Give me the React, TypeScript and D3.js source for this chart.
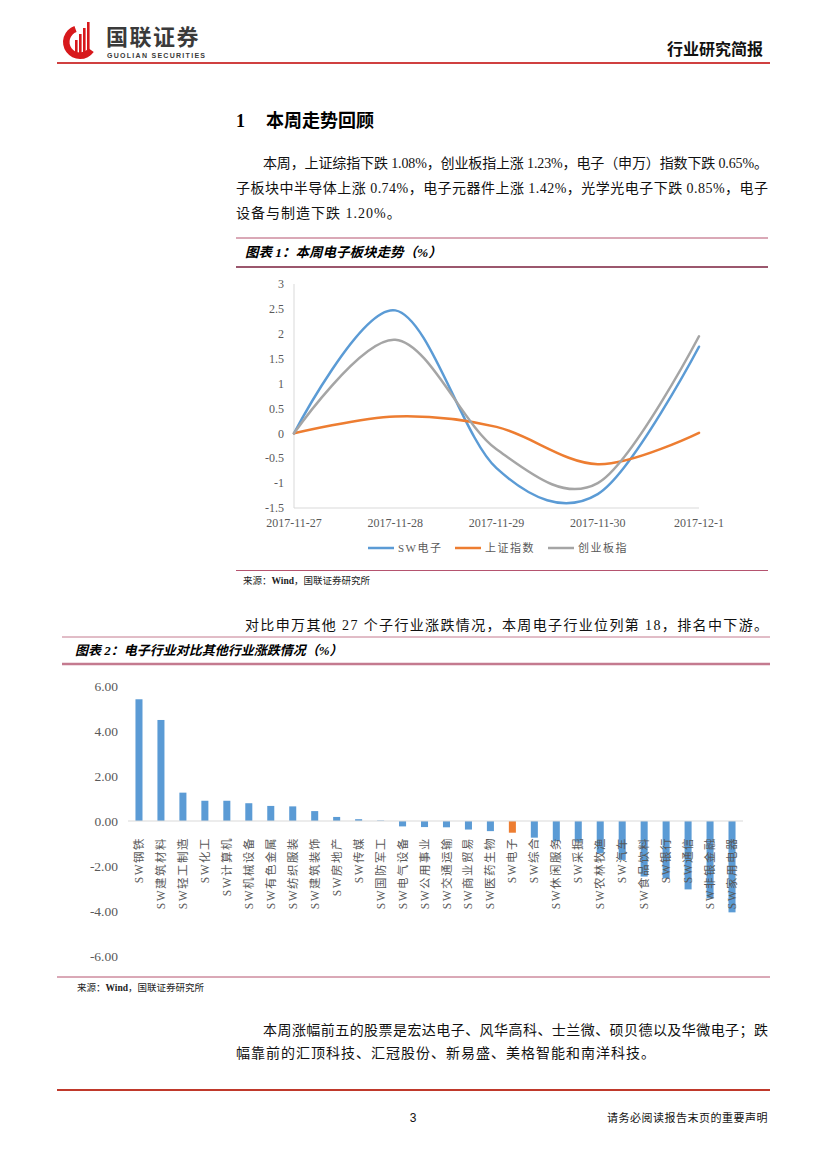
import React from 'react';
import * as d3 from 'd3';

// ---------- Chart 1 data ----------
const dates = ['2017-11-27', '2017-11-28', '2017-11-29', '2017-11-30', '2017-12-1'];
const swElec = [0, 2.47, -0.7, -1.22, 1.74];
const shIndex = [0, 0.34, 0.13, -0.62, 0.01];
const cyIndex = [0, 1.88, -0.32, -1.0, 1.95];
const yTicks1 = [3, 2.5, 2, 1.5, 1, 0.5, 0, -0.5, -1, -1.5];
const seriesNames = ['SW电子', '上证指数', '创业板指'];

// ---------- Chart 2 data ----------
const industries = [
  'SW钢铁', 'SW建筑材料', 'SW轻工制造', 'SW化工', 'SW计算机', 'SW机械设备', 'SW有色金属',
  'SW纺织服装', 'SW建筑装饰', 'SW房地产', 'SW传媒', 'SW国防军工', 'SW电气设备', 'SW公用事业',
  'SW交通运输', 'SW商业贸易', 'SW医药生物', 'SW电子', 'SW综合', 'SW休闲服务', 'SW采掘',
  'SW农林牧渔', 'SW汽车', 'SW食品饮料', 'SW银行', 'SW通信', 'SW非银金融', 'SW家用电器',
];
const changes = [
  5.41, 4.49, 1.26, 0.9, 0.9, 0.79, 0.67,
  0.65, 0.44, 0.18, 0.08, 0.02, -0.24, -0.27,
  -0.28, -0.38, -0.45, -0.52, -0.74, -0.9, -0.92,
  -1.44, -1.73, -2.47, -2.55, -3.04, -3.44, -4.06,
];
const yTicks2 = [6, 4, 2, 0, -2, -4, -6];
const highlight = 'SW电子';

const SERIF = "'Liberation Serif','Times New Roman','Noto Sans CJK SC',serif";
const CJK = "'Noto Sans CJK SC','Liberation Serif',serif";
const BLUE = '#5B9BD5';
const ORANGE = '#ED7D31';
const GRAY = '#A5A5A5';
const LABEL = '#595959';

export default function App() {
  // chart 1 scales
  const x1 = d3.scalePoint<string>().domain(dates).range([294, 699]);
  const y1 = d3.scaleLinear().domain([-1.5, 3]).range([508, 284]);
  const line = d3
    .line<number>()
    .x((_, i) => x1(dates[i]) as number)
    .y((d) => y1(d))
    .curve(d3.curveCardinal.tension(0));
  const series = [
    { name: seriesNames[0], values: swElec, color: BLUE },
    { name: seriesNames[1], values: shIndex, color: ORANGE },
    { name: seriesNames[2], values: cyIndex, color: GRAY },
  ];
  const legendX = [368, 455, 548];

  // chart 2 scales
  const x2 = d3.scaleBand<string>().domain(industries).range([128, 743]).paddingInner(0.68).paddingOuter(0.34);
  const y2 = d3.scaleLinear().domain([-6, 6]).range([956, 686]);

  // logo arc
  const logoArc = d3.arc()({ innerRadius: 10.5, outerRadius: 17, startAngle: 2.2, endAngle: 5.95 } as any) as string;

  return (
    <div style={{ position: 'absolute', left: 0, top: 0 }}>
      <svg width={827} height={1169} style={{ display: 'block', background: '#fff' }}>
        {/* ---------- header ---------- */}
        <g>
          <path d={logoArc} transform="translate(80,42)" fill="#D7191C" />
          {[{ x: 75, t: 40 }, { x: 79, t: 34 }, { x: 83, t: 28 }, { x: 87, t: 22 }].map((b, i) => (
            <rect key={i} x={b.x} y={b.t} width={2.6} height={56 - b.t} fill="#D7191C" />
          ))}
          <text x={106} y={45} fontFamily={CJK} fontWeight={700} fontSize={22} letterSpacing={1.5} fill="#3a3a3a">国联证券</text>
          <text x={107} y={58} fontFamily="'Liberation Sans',Arial,sans-serif" fontWeight={700} fontSize={7} fill="#3a3a3a" textLength={98} lengthAdjust="spacing">GUOLIAN SECURITIES</text>
          <text x={763} y={55} textAnchor="end" fontFamily={CJK} fontWeight={700} fontSize={16} fill="#111">行业研究简报</text>
          <line x1={57} x2={770} y1={63} y2={63} stroke="#C00000" strokeWidth={1.6} />
        </g>

        {/* ---------- section heading and paragraph ---------- */}
        <text x={236} y={127} fontFamily={SERIF} fontWeight={700} fontSize={18} fill="#000">1</text>
        <text x={266} y={127} fontFamily={CJK} fontWeight={700} fontSize={18} fill="#000">本周走势回顾</text>
        <g fontFamily={SERIF} fontSize={14} fill="#111">
          <text x={263} y={168} textLength={505} lengthAdjust="spacing">本周，上证综指下跌 1.08%，创业板指上涨 1.23%，电子（申万）指数下跌 0.65%。</text>
          <text x={236} y={193} textLength={532} lengthAdjust="spacing">子板块中半导体上涨 0.74%，电子元器件上涨 1.42%，光学光电子下跌 0.85%，电子</text>
          <text x={236} y={218} letterSpacing={1}>设备与制造下跌 1.20%。</text>
        </g>

        {/* ---------- chart 1 title ---------- */}
        <line x1={236} x2={768} y1={238} y2={238} stroke="#B5536F" strokeWidth={1} />
        <text x={245} y={257} fontFamily={SERIF} fontStyle="italic" fontWeight={700} fontSize={13.5} fill="#000">图表 1：本周电子板块走势（%）</text>
        <line x1={236} x2={768} y1={267} y2={267} stroke="#7A1F3D" strokeWidth={1.3} />

        {/* ---------- chart 1 ---------- */}
        <g>
          <line x1={294} x2={294} y1={284} y2={508} stroke="#D9D9D9" strokeWidth={1} />
          <line x1={294} x2={699} y1={508} y2={508} stroke="#D9D9D9" strokeWidth={1} />
          {yTicks1.map((t) => (
            <text key={t} x={284} y={y1(t)} dy="0.35em" textAnchor="end" fontFamily={SERIF} fontSize={12} fill={LABEL}>
              {String(t)}
            </text>
          ))}
          {dates.map((d) => (
            <text key={d} x={x1(d) as number} y={527} textAnchor="middle" fontFamily={SERIF} fontSize={12} fill={LABEL}>
              {d}
            </text>
          ))}
          {series.map((s) => (
            <path key={s.name} d={line(s.values) as string} fill="none" stroke={s.color} strokeWidth={2.5} strokeLinecap="round" />
          ))}
          {series.map((s, i) => (
            <g key={s.name}>
              <line x1={legendX[i]} x2={legendX[i] + 26} y1={548} y2={548} stroke={s.color} strokeWidth={2.5} />
              <text x={legendX[i] + 30} y={548} dy="0.35em" fontFamily={SERIF} fontSize={11} letterSpacing={1.5} fill={LABEL}>
                {s.name}
              </text>
            </g>
          ))}
        </g>
        <line x1={236} x2={768} y1={570.5} y2={570.5} stroke="#B5536F" strokeWidth={1} />
        <text x={243} y={584} fontFamily={SERIF} fontSize={9.5} fill="#222">来源：<tspan fontWeight={700}>Wind</tspan>，国联证券研究所</text>

        <text x={245} y={630} fontFamily={SERIF} fontSize={14} fill="#111" textLength={523} lengthAdjust="spacing">对比申万其他 27 个子行业涨跌情况，本周电子行业位列第 18，排名中下游。</text>

        {/* ---------- chart 2 title ---------- */}
        <line x1={62} x2={770} y1={637} y2={637} stroke="#C47A8F" strokeWidth={1} />
        <text x={75} y={655} fontFamily={SERIF} fontStyle="italic" fontWeight={700} fontSize={13} fill="#000">图表 2：电子行业对比其他行业涨跌情况（%）</text>
        <line x1={62} x2={770} y1={664} y2={664} stroke="#C47A8F" strokeWidth={2.5} />

        {/* ---------- chart 2 ---------- */}
        <g>
          {yTicks2.map((t) => (
            <text key={t} x={118} y={y2(t)} dy="0.35em" textAnchor="end" fontFamily={SERIF} fontSize={13.5} fill={LABEL}>
              {t.toFixed(2)}
            </text>
          ))}
          {industries.map((name, i) => {
            const v = changes[i];
            return (
              <rect
                key={name}
                x={x2(name) as number}
                width={x2.bandwidth()}
                y={y2(Math.max(0, v))}
                height={Math.abs(y2(v) - y2(0))}
                fill={name === highlight ? ORANGE : BLUE}
              />
            );
          })}
          <line x1={128} x2={743} y1={y2(0)} y2={y2(0)} stroke="#D9D9D9" strokeWidth={1} />
          {industries.map((name) => {
            const cx = (x2(name) as number) + x2.bandwidth() / 2;
            return (
              <text
                key={name}
                transform={`translate(${cx},837) rotate(-90)`}
                dy="0.35em"
                textAnchor="end"
                fontFamily={SERIF}
                fontSize={11.5}
                letterSpacing={1.5}
                fill={LABEL}
              >
                {name}
              </text>
            );
          })}
        </g>
        <line x1={57} x2={770} y1={977} y2={977} stroke="#B5536F" strokeWidth={1} />
        <text x={77} y={991} fontFamily={SERIF} fontSize={9.5} fill="#222">来源：<tspan fontWeight={700}>Wind</tspan>，国联证券研究所</text>

        {/* ---------- bottom paragraph ---------- */}
        <g fontFamily={SERIF} fontSize={14} fill="#111">
          <text x={263} y={1035} textLength={505} lengthAdjust="spacing">本周涨幅前五的股票是宏达电子、风华高科、士兰微、硕贝德以及华微电子；跌</text>
          <text x={236} y={1058} letterSpacing={1}>幅靠前的汇顶科技、汇冠股份、新易盛、美格智能和南洋科技。</text>
        </g>

        {/* ---------- footer ---------- */}
        <line x1={57} x2={770} y1={1090} y2={1090} stroke="#C0392B" strokeWidth={2} />
        <text x={413} y={1122} textAnchor="middle" fontFamily="'Liberation Sans',Arial,sans-serif" fontSize={12} fill="#111">3</text>
        <text x={768} y={1122} textAnchor="end" fontFamily={SERIF} fontSize={11} letterSpacing={0.5} fill="#111">请务必阅读报告末页的重要声明</text>
      </svg>
    </div>
  );
}
